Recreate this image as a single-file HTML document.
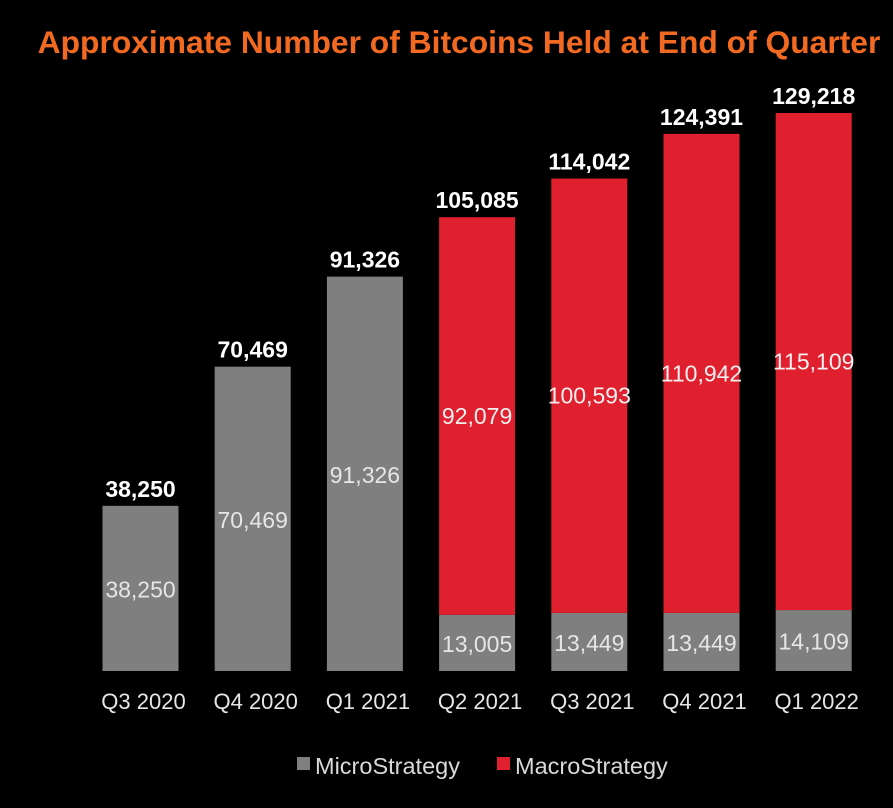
<!DOCTYPE html>
<html><head><meta charset="utf-8"><style>
html,body{margin:0;padding:0;background:#000;}
body{width:893px;height:803px;overflow:hidden;font-family:"Liberation Sans",sans-serif;}
</style></head><body>
<svg width="893" height="803">
<text x="459" y="53" text-anchor="middle" font-size="31.8" font-weight="bold" fill="#f26a21">Approximate Number of Bitcoins Held at End of Quarter</text>
<g id="bars"></g>
<g>
<rect x="297" y="757" width="13" height="13" fill="#7f7f7f"/>
<text x="315" y="774" font-size="23.5" fill="#d9d9d9">MicroStrategy</text>
<rect x="497" y="757" width="13" height="13" fill="#e0202e"/>
<text x="515" y="774" font-size="23.5" fill="#d9d9d9">MacroStrategy</text>
</g>
</svg>
<script>
const categories=["Q3 2020","Q4 2020","Q1 2021","Q2 2021","Q3 2021","Q4 2021","Q1 2022"];
const microValues=[38250,70469,91326,13005,13449,13449,14109];
const macroValues=[0,0,0,92079,100593,110942,115109];
const totalLabels=["38,250","70,469","91,326","105,085","114,042","124,391","129,218"];
const baseY=671, yScale=558/129218;
const y=v=>baseY-v*yScale;
const x=i=>140.5+i*112.2;
const bw=76;
const g=document.getElementById('bars');
const NS='http://www.w3.org/2000/svg';
function mk(t,a){const e=document.createElementNS(NS,t);for(const k in a)e.setAttribute(k,a[k]);g.appendChild(e);return e;}
const fmt=v=>v.toLocaleString('en-US');
categories.forEach((c,i)=>{
  const m=microValues[i], M=macroValues[i], tot=m+M;
  const r1=mk('rect',{x:x(i)-bw/2,y:y(m),width:bw,height:baseY-y(m),fill:'#7f7f7f'});
  
  
  const t1=mk('text',{x:x(i),y:(y(m)+baseY)/2+9,'text-anchor':'middle','font-size':'23',fill:'#e6e6e6'});
  t1.textContent=fmt(m);
  
  
  if(M>0){
    const r2=mk('rect',{x:x(i)-bw/2,y:y(tot),width:bw,height:y(m)-y(tot),fill:'#e0202e'});
    
    
    const t2=mk('text',{x:x(i),y:(y(tot)+y(m))/2+8,'text-anchor':'middle','font-size':'23',fill:'#f0f0f0'});
    t2.textContent=fmt(M);
    
    
  }
  const t3=mk('text',{x:x(i),y:y(tot)-9,'text-anchor':'middle','font-size':'23','font-weight':'bold',fill:'#fff'});
  t3.textContent=totalLabels[i];
  
  
  const t4=mk('text',{x:x(i)+3,y:709,'text-anchor':'middle','font-size':'22',fill:'#e6e6e6'});
  t4.textContent=c;
  
  
});
</script>
</body></html>
